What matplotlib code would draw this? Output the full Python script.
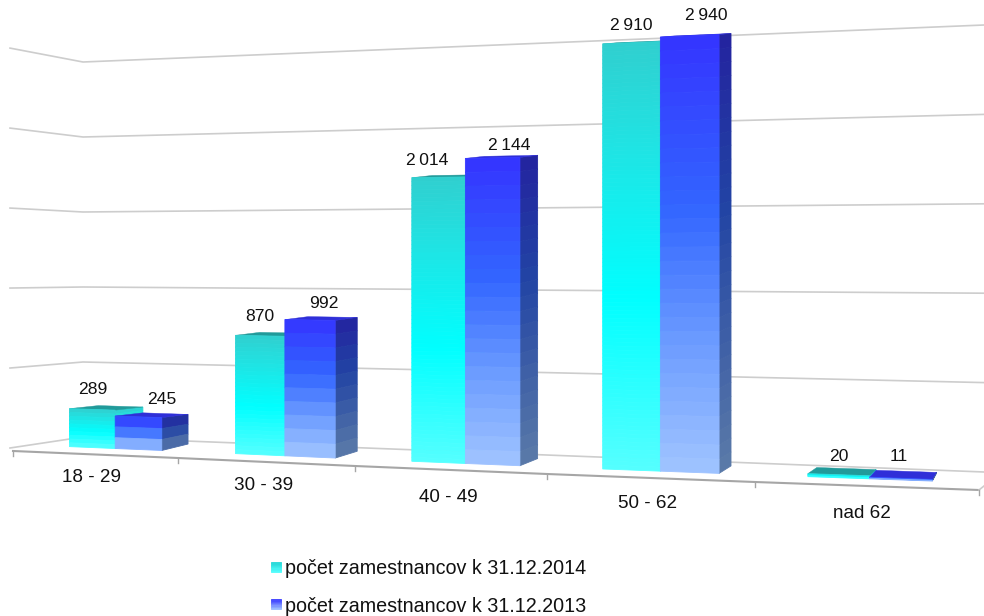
"""
Employee counts by age group, drawn as perspective 3D bars
"""
import numpy as np
import matplotlib
matplotlib.use("Agg")
import matplotlib.pyplot as plt
from matplotlib.colors import LinearSegmentedColormap, to_rgb
from matplotlib.patches import Polygon

categories = ["18 - 29", "30 - 39", "40 - 49", "50 - 62", "nad 62"]
values_2014 = [289, 870, 2014, 2910, 20]
values_2013 = [245, 992, 2144, 2940, 11]
labels_2014 = ["289", "870", "2\u2009014", "2\u2009910", "20"]
labels_2013 = ["245", "992", "2\u2009144", "2\u2009940", "11"]
series_names = ["počet zamestnancov k 31.12.2014", "počet zamestnancov k 31.12.2013"]
grid_values = [0, 600, 1200, 1800, 2400, 3000]

FONT = "Liberation Sans"
GRID_COLOR = "#cdcdcd"
AXIS_COLOR = "#a6a6a6"

TEAL = LinearSegmentedColormap.from_list(
    "teal", [(0, "#30cfcf"), (0.25, "#1fe4e4"), (0.6, "#00ffff"), (1, "#55ffff")])
BLUE = LinearSegmentedColormap.from_list(
    "blue", [(0, "#3434ff"), (0.4, "#3366ff"), (0.7, "#6b9bff"), (1, "#a0c4ff")])
BLUE_SIDE = LinearSegmentedColormap.from_list(
    "blue_side", [(0, "#23239f"), (0.4, "#2244a4"), (1, "#5a7aa8")])

# perspective of the floor, in image pixels
TICK_X = [13, 178, 355, 547, 755, 979]
TICK_Y = [451, 458, 466, 474, 482, 490]
DEPTH_X = [68, 57, 48, 38, 24, 5]
D_FRONT, D_BACK = 0.40, 0.84
BAR_FRACS = [0.20, 0.485, 0.775]
BAR_SHIFT = [-0.018, 0, 0, 0, 0]


def project(u, d=0.0):
    x = np.interp(u, range(6), TICK_X)
    y = np.interp(u, range(6), TICK_Y)
    return x + d * np.interp(u, range(6), DEPTH_X), y - d * (14 + 0.8 * u)


def height_scale(x):
    return 0.1295 + 0.0000275 * x


def back_height(h):
    # the back of a bar rises a little less than its front
    return max(h * 0.99 - 3, h * 0.5)


def wall_y(x, value):
    # height of a grid level on the back wall, between both of its corners
    base = np.interp(x, [83, 984], [437, 472])
    return base - value * np.interp(x, [83, 984], [0.125, 0.149])


def strips(ax, left_low, right_low, left_top, right_top, cmap, n):
    edges = np.linspace(0, 1, n + 1)
    for i in range(n):
        t0, t1 = edges[i], edges[i + 1]
        corners = [
            (left_top[0], left_top[1] + t0 * (left_low[1] - left_top[1])),
            (right_top[0], right_top[1] + t0 * (right_low[1] - right_top[1])),
            (right_top[0], right_top[1] + t1 * (right_low[1] - right_top[1])),
            (left_top[0], left_top[1] + t1 * (left_low[1] - left_top[1])),
        ]
        color = cmap((t0 + t1) / 2)
        ax.add_patch(Polygon(corners, closed=True, facecolor=color, edgecolor=color,
                             linewidth=0.6))


def draw_bar(ax, u0, u1, value, front_cmap, side_cmap, top_color, band):
    x0, y0 = project(u0, D_FRONT)
    x1, y1 = project(u1, D_FRONT)
    x2, y2 = project(u1, D_BACK)
    x3, y3 = project(u0, D_BACK)

    h0 = value * height_scale(x0)
    h1 = value * height_scale(x1)
    h2 = back_height(value * height_scale(x2))
    h3 = back_height(value * height_scale(x3))

    n = max(3, int(round(h1 / band)))
    strips(ax, (x1, y1), (x2, y2), (x1, y1 - h1), (x2, y2 - h2), side_cmap, n)
    ax.add_patch(Polygon([(x0, y0 - h0), (x1, y1 - h1), (x2, y2 - h2), (x3, y3 - h3)],
                         closed=True, facecolor=top_color, edgecolor=top_color, linewidth=0.3))
    strips(ax, (x0, y0), (x1, y1), (x0, y0 - h0), (x1, y1 - h1), front_cmap, n)
    return (x0 + x1) / 2, (y0 - h0 + y1 - h1) / 2


fig = plt.figure(figsize=(9.84, 6.16), dpi=100)
ax = fig.add_axes([0, 0, 1, 1])
ax.set_xlim(0, 984)
ax.set_ylim(616, 0)
ax.axis("off")

# back and left walls
for level in grid_values:
    xs = [10, 83, 984]
    ys = [448 - level * 0.1333, wall_y(83, level), wall_y(984, level)]
    ax.plot(xs, ys, color=GRID_COLOR, linewidth=1.2, zorder=1)

# floor front edge and ticks
ax.plot(TICK_X, TICK_Y, color=AXIS_COLOR, linewidth=1.5, zorder=1)
ax.plot([979, 984], [490, 486], color=GRID_COLOR, linewidth=1.2, zorder=1)
for tx, ty in zip(TICK_X, TICK_Y):
    ax.plot([tx, tx], [ty, ty + 5], color=AXIS_COLOR, linewidth=1.0, zorder=1)

# horizontal nudges of the value labels from the middle of their bar
nudge_2014 = [0, 0, -11, 0, 0]
nudge_2013 = [23, 14, 17, 17, -2]
lift_2014 = [20, 19, 17, 17, 18]
lift_2013 = [17, 16, 12, 20, 22]
cat_label_y = [478, 486, 497, 503, 513]
cat_label_x = [92, 264, 448, 648, 862]

for i, category in enumerate(categories):
    u0, um, u1 = [i + f + BAR_SHIFT[i] for f in BAR_FRACS]
    teal_x, teal_y = draw_bar(ax, u0, um, values_2014[i], TEAL, TEAL, "#219a9a", 4)
    blue_x, blue_y = draw_bar(ax, um, u1, values_2013[i], BLUE, BLUE_SIDE, "#2f2fd8", 14)

    ax.text(teal_x + nudge_2014[i], teal_y - lift_2014[i], labels_2014[i], family=FONT,
            fontsize=12.6, ha="center", va="center", color="#111111")
    ax.text(blue_x + nudge_2013[i], blue_y - lift_2013[i], labels_2013[i], family=FONT,
            fontsize=12.6, ha="center", va="center", color="#111111")
    ax.text(cat_label_x[i], cat_label_y[i], category, family=FONT,
            fontsize=13.6, ha="center", va="center", color="#111111")

# legend
legend_y = [568, 605]
for name, y, top, low in zip(series_names, legend_y,
                             ["#22d4d4", "#3434ff"], ["#55ffff", "#a0c4ff"]):
    cmap = LinearSegmentedColormap.from_list("swatch", [to_rgb(top), to_rgb(low)])
    strips(ax, (271, y + 4), (281, y + 4), (271, y - 6), (281, y - 6), cmap, 8)
    ax.text(285, y + 1, name, family=FONT, fontsize=14.2, ha="left", va="center", color="#111111")

fig.savefig("out.png", dpi=100)
